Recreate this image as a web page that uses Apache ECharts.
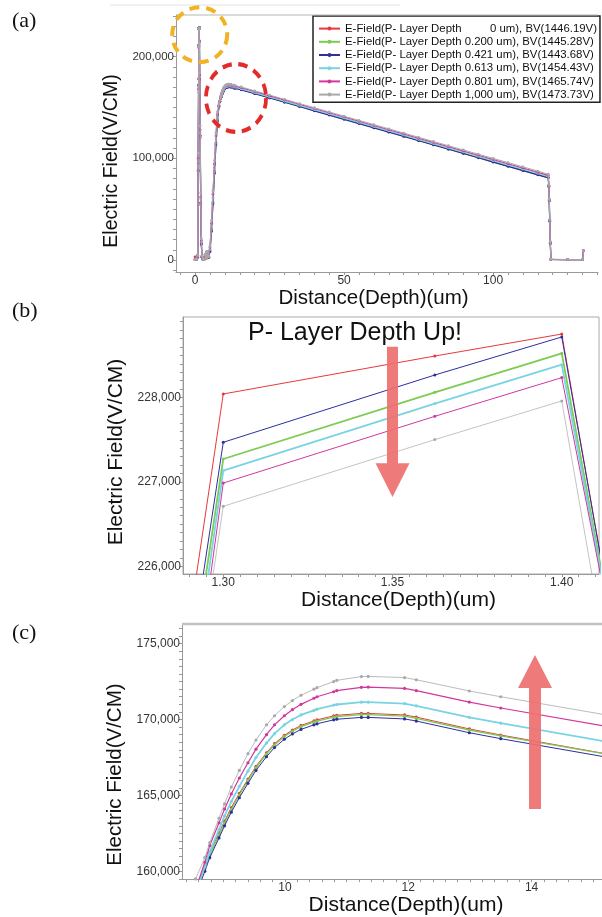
<!DOCTYPE html>
<html><head><meta charset="utf-8">
<script src="https://cdn.jsdelivr.net/npm/echarts@6/dist/echarts.min.js"></script>
<style>html,body{margin:0;padding:0;background:#fff}#c{width:602px;height:917px}</style>
</head><body><div id="c"></div><script>
// ---------- DATA ----------
const depth = [0,0.5,0.9,1.05,1.175,1.2375,1.3,1.3625,1.4,1.4625,1.55,1.7,1.9,2.1,2.3,2.6,3.0,3.4,3.7,4.0,4.3,4.6,5.0,5.5,6.0,6.5,7.0,7.5,8.0,8.3,8.55,8.7,8.78,8.93,9.02,9.13,9.26,9.4,9.53,9.7,9.83,9.99,10.12,10.26,10.47,10.52,10.79,10.84,11.24,11.35,11.94,12.13,12.99,13.5,15.5,20,25,30,35,40,45,50,55,60,65,70,75,80,85,90,95,100,105,110,115,118.5,118.7,118.85,119.0,119.2,119.4,125,130.0,130.3];

const field0 = [3000,800,5000,95000,178000, 211128,228043,228493,228754,214367, 177000,120000,54000,15000,2800, 700,400,4800,1400,7800, 2900,2400,9000,30000,57000, 87000,115000,137500,151300,156000, 158800,160350,161250,162520,163310, 164200,165140,166080,166920,167810, 168410,168960,169310,169610,169910, 169980,170240,170280,170400,170400, 170300,170160,169380,168980,167530, 163800,159600,155400,151200,147000, 142800,138600,134400,130200,126000, 121800,117600,113400,109200,105000, 100800,96600,92400,88200,84000, 81100,72500,58500,38500,16500, 600,300,400,9000];

const field200 = [400,600,2500,87000,171000, 210520,227272,228063,228525,214775, 178500,122500,56500,16500,3000, 800,400,5000,1500,8000, 3000,2500,8800,29500,56500, 86300,114200,137000,151000,155800, 158650,160180,161080,162380,163180, 164080,165030,165980,166830,167730, 168330,168880,169230,169530,169830, 169900,170160,170200,170320,170320, 170220,170080,169310,168930,167520, 163750,159550,155350,151150,146950, 142750,138550,134350,130150,125950, 121750,117550,113350,109150,104950, 100750,96550,92350,88150,83950, 81050,72300,58300,38300,16300, 500,300,400,9000];

const field421 = [300,600,2500,88000,172000, 210890,227470,228268,228719,214535, 178000,122000,56000,16000,3000, 800,400,5000,1500,8000, 3000,2500,8000,28000,55000, 85000,113000,136000,150500,155500, 158400,160000,160900,162200,163000, 163900,164850,165800,166650,167550, 168150,168700,169050,169350,169650, 169720,169980,170020,170140,170140, 170040,169900,169130,168740,167320, 163500,159300,155100,150900,146700, 142500,138300,134100,129900,125700, 121500,117300,113100,108900,104700, 100500,96300,92100,87900,83700, 80800,72000,58000,38000,16000, 500,300,400,9000];

const field613 = [300,700,3500,92000,170000, 209676,227134,227929,228391,215075, 180000,125000,60000,18000,3500, 900,500,5200,1600,8200, 3100,3000,10500,33000,61000, 91000,118500,140000,151500,156000, 158600,160300,161300,162750,163650, 164600,165600,166600,167500,168450, 169070,169650,170000,170300,170600, 170680,170950,170990,171140,171140, 171050,170900,170140,169760,168340, 164650,160450,156300,152100,147950, 143750,139600,135400,131250,127050, 122900,118700,114550,110350,106200, 102000,97850,93650,89500,85300, 82300,73000,59000,39000,17000, 600,300,400,9000];

const field801 = [400,800,4500,100000,168000, 208710,226987,227778,228237,215471, 182000,128000,62000,19000,3500, 900,500,5200,1600,8200, 3100,3200,12000,36000,64500, 94500,122000,143000,152000,156000, 158800,160600,161700,163200,164100, 165100,166150,167150,168050,169000, 169650,170250,170650,171000,171400, 171500,171830,171900,172120,172140, 172050,171900,171150,170760,169340, 165650,161450,157300,153100,148950, 144750,140600,136400,132250,128050, 123900,119700,115550,111350,107200, 103000,98850,94650,90500,86300, 83200,73500,59500,39500,17500, 600,300,400,9000];

const field1000 = [300,900,5000,105000,165000, 209919,226711,227502,227960,213528, 184000,132000,66000,21000,4000, 1000,500,5400,1700,8400, 3200,3500,13500,39000,68000, 98000,125000,145500,153500,157000, 159500,160900,161900,163500,164450, 165550,166650,167750,168650,169650, 170250,170850,171250,171600,172000, 172100,172500,172580,172830,172840, 172760,172620,171880,171500,170100, 166350,162150,158000,153850,149700, 145550,141400,137250,133100,128950, 124800,120650,116500,112350,108200, 104050,99900,95750,91600,87450, 84300,74000,60000,40000,18000, 800,400,500,9000];

const seriesNames = [
  'E-Field(P- Layer Depth         0 um), BV(1446.19V)',
  'E-Field(P- Layer Depth 0.200 um), BV(1445.28V)',
  'E-Field(P- Layer Depth 0.421 um), BV(1443.68V)',
  'E-Field(P- Layer Depth 0.613 um), BV(1454.43V)',
  'E-Field(P- Layer Depth 0.801 um), BV(1465.74V)',
  'E-Field(P- Layer Depth 1,000 um), BV(1473.73V)'
];
const seriesValues = [field0, field200, field421, field613, field801, field1000];

const xLabelsA = [0, 50, 100];
const yLabelsA = [0, 100000, 200000];
const xLabelsB = [1.30, 1.35, 1.40];
const yLabelsB = [226000, 227000, 228000];
const xLabelsC = [10, 12, 14];
const yLabelsC = [160000, 165000, 170000, 175000];

// ---------- STYLE ----------
const FONT = '"Liberation Sans", Arial, sans-serif';
const SERIF = '"Liberation Serif", "Times New Roman", serif';
const colors = ['#E8383D', '#7CCB52', '#2E2EA0', '#7AD3E3', '#D0389C', '#A9A9A9'];

function fmtThousands(v){ return String(Math.round(v)).replace(/\B(?=(\d{3})+(?!\d))/g, ','); }
function steps(a, b, s){ const out=[]; const n=Math.round((b-a)/s); for(let i=0;i<=n;i++) out.push(Math.round((a+i*s)*10000)/10000); return out; }
function pairs(vals){ return depth.map((d,i)=>[d, vals[i]]); }

const grids = [
  {left:176, top:15, width:422, height:257},
  {left:183, top:317, width:416, height:257, show:true, borderColor:'#aaa', borderWidth:1},
  {left:182, top:624, width:423, height:264}
];

function xAxisCfg(gi, min, max, labels, ticks, fmt, nameSize, nameGap, namePad){
  return {type:'value', gridIndex:gi, min:min, max:max,
    name:'Distance(Depth)(um)', nameLocation:'middle', nameGap:nameGap,
    nameTextStyle:{fontSize:nameSize, color:'#111', fontFamily:FONT, padding:namePad},
    axisLine:{onZero:false, lineStyle:{color:'#999', width:1}},
    axisTick:{show:true, customValues:ticks, length:3, inside:false, lineStyle:{color:'#999'}},
    axisLabel:{customValues:labels, formatter:fmt, fontSize:12, color:'#333', margin:3, fontFamily:FONT},
    splitLine:{show:false}};
}
function yAxisCfg(gi, min, max, labels, ticks, nameSize, nameGap, namePad, labelSize){
  return {type:'value', gridIndex:gi, min:min, max:max,
    name:'Electric Field(V/CM)', nameLocation:'middle', nameGap:nameGap,
    nameTextStyle:{fontSize:nameSize, color:'#111', fontFamily:FONT, padding:namePad},
    axisLine:{show:true, onZero:false, lineStyle:{color:'#999', width:1}},
    axisTick:{show:true, customValues:ticks, length:3, inside:false, lineStyle:{color:'#999'}},
    axisLabel:{customValues:labels, formatter:fmtThousands, fontSize:labelSize, color:'#333', margin:2, fontFamily:FONT},
    splitLine:{show:false}};
}

const xAxes = [
  xAxisCfg(0, -6.4, 135.2, xLabelsA, steps(-5,135,5), v=>String(v), 20.5, 4, [0,27,0,0]),
  xAxisCfg(1, 1.2881, 1.4110, xLabelsB, steps(1.29,1.41,0.005), v=>v.toFixed(2), 21, 12, [0,0,0,15]),
  xAxisCfg(2, 8.33, 15.142, xLabelsC, steps(8.4,15.0,0.2), v=>String(v), 21, 11, [0,0,0,28])
];
const yAxes = [
  yAxisCfg(0, -11800, 240900, yLabelsA, steps(-10000,240000,10000), 19.5, 44, [0,35,0,0], 11.5),
  yAxisCfg(1, 225908, 228956, yLabelsB, steps(226000,228900,100), 21, 49, [0,13,0,0], 12),
  yAxisCfg(2, 159491, 176291, yLabelsC, steps(159500,176000,500), 20.5, 49, [0,46,0,0], 12)
];

const panelStyles = [
  {widths:[1,1.3,1.2,1.3,1.2,1], size:2.8},
  {widths:[1,1.8,1,1.8,1,0.7], size:3},
  {widths:[1,1.3,1,1.8,1.2,0.8], size:3.2}
];
const series = [];
panelStyles.forEach((ps, p)=>{
  seriesValues.forEach((vals, k)=>{
    series.push({type:'line', name:seriesNames[k], xAxisIndex:p, yAxisIndex:p,
      data:pairs(vals), symbol:'circle', symbolSize:ps.size, showSymbol:true,
      lineStyle:{color:colors[k], width:ps.widths[k]}, itemStyle:{color:colors[k]},
      clip:true, z:2+k, animation:false, emphasis:{disabled:true}});
  });
});

function arrowDown(cx, top, shaftBottom, tip, sw, hw){
  return [[cx-sw,top],[cx+sw,top],[cx+sw,shaftBottom],[cx+hw,shaftBottom],[cx,tip],[cx-hw,shaftBottom],[cx-sw,shaftBottom]];
}

const graphic = [
  {type:'line', shape:{x1:110,y1:5,x2:400,y2:5}, style:{stroke:'#e2e2e2', lineWidth:1}, z:50},
  {type:'line', shape:{x1:176,y1:15,x2:598,y2:15}, style:{stroke:'#b5b5b5', lineWidth:1}, z:50},
  {type:'line', shape:{x1:182,y1:624,x2:602,y2:624}, style:{stroke:'#c2c2c2', lineWidth:2.5}, z:50},
  {type:'circle', shape:{cx:199.7, cy:34.7, r:27.5}, style:{fill:null, stroke:'#F2B225', lineWidth:4, lineDash:[10,7]}, z:100},
  {type:'circle', x:236, y:98, scaleX:0.94, scaleY:1.06, shape:{cx:0, cy:0, r:32}, style:{fill:null, stroke:'#E52A2A', lineWidth:4, lineDash:[10,7]}, z:100},
  {type:'polygon', shape:{points:arrowDown(392.5, 346.7, 463.3, 497, 5.5, 17)}, style:{fill:'#EE6F6F', opacity:0.92}, z:100},
  {type:'polygon', shape:{points:arrowDown(535, 809, 688, 655, 6, 17)}, style:{fill:'#EE6F6F', opacity:0.92}, z:100},
  {type:'text', x:248, y:333, style:{text:'P- Layer Depth Up!', fontSize:25, fontFamily:FONT, fill:'#111', verticalAlign:'middle'}, z:100},
  {type:'text', x:12, y:21, style:{text:'(a)', fontSize:22, fontFamily:SERIF, fill:'#111', verticalAlign:'middle'}, z:100},
  {type:'text', x:12, y:311, style:{text:'(b)', fontSize:22, fontFamily:SERIF, fill:'#111', verticalAlign:'middle'}, z:100},
  {type:'text', x:12, y:633, style:{text:'(c)', fontSize:22, fontFamily:SERIF, fill:'#111', verticalAlign:'middle'}, z:100}
];

const chart = echarts.init(document.getElementById('c'), null, {renderer:'canvas', width:602, height:917});
chart.setOption({
  animation:false,
  backgroundColor:'#fff',
  grid:grids,
  xAxis:xAxes,
  yAxis:yAxes,
  legend:{data:seriesNames, orient:'vertical', left:313, top:16, padding:[6,3,1,5], itemGap:0,
    itemWidth:21, itemHeight:5, backgroundColor:'#fff', borderColor:'#222', borderWidth:1.5,
    textStyle:{fontSize:11.4, fontFamily:FONT, color:'#111', lineHeight:13.2}, selectedMode:false, z:20},
  series:series,
  graphic:graphic
});
</script></body></html>
